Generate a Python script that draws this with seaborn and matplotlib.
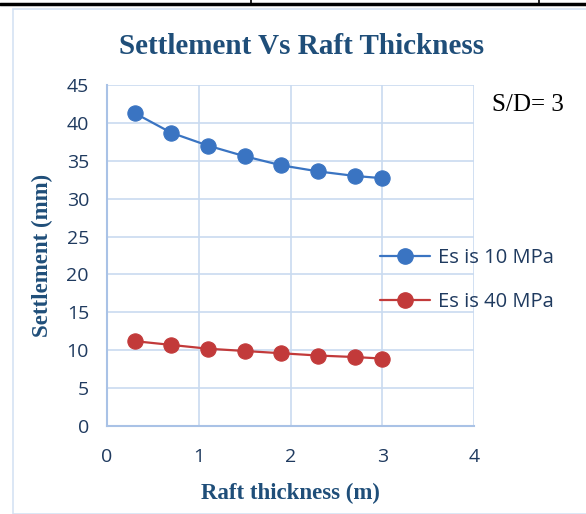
import numpy as np
import pandas as pd
import matplotlib
matplotlib.use("Agg")
import matplotlib.pyplot as plt
import seaborn as sns
from matplotlib.lines import Line2D
from matplotlib.patches import Rectangle

thickness = [0.3, 0.7, 1.1, 1.5, 1.9, 2.3, 2.7, 3.0]
es10 = [41.3, 38.7, 37.0, 35.6, 34.4, 33.6, 33.0, 32.7]
es40 = [11.2, 10.7, 10.2, 9.9, 9.6, 9.3, 9.1, 8.9]
series = ["Es is 10 MPa", "Es is 40 MPa"]
colors = ["#3A74C2", "#C23A3A"]

df = pd.DataFrame({
    "x": thickness * 2,
    "y": es10 + es40,
    "s": [series[0]] * len(thickness) + [series[1]] * len(thickness),
})

sns.set_style("white")
fig = plt.figure(figsize=(5.86, 5.14), dpi=100)
ax = fig.add_axes([107/586, 1-426/514, (474-107)/586, (426-85)/514])

sns.lineplot(data=df, x="x", y="y", hue="s", palette=colors, marker="o",
             markersize=11, markeredgewidth=0.8, linewidth=1.6, ax=ax, legend=False)
for l, c in zip(ax.lines, colors):
    l.set_markeredgecolor(c)

ax.set_xlim(0, 4)
ax.set_ylim(0, 45)
ax.set_xticks([0, 1, 2, 3, 4])
ax.set_yticks(range(0, 46, 5))
grid_c = "#C9DAF0"
ax.grid(True, color=grid_c, linewidth=1.2)
ax.set_axisbelow(True)
for s in ["top", "right"]:
    ax.spines[s].set_visible(False)
for s in ["left", "bottom"]:
    ax.spines[s].set_color("#A9C2E6")
    ax.spines[s].set_linewidth(1.5)
tick_c = "#1F3A5F"
ax.tick_params(axis="both", length=0, labelsize=14, labelcolor=tick_c)
ax.tick_params(axis="y", pad=13)
ax.tick_params(axis="x", pad=16)
for t in ax.get_xticklabels() + ax.get_yticklabels():
    t.set_fontfamily("Open Sans")

ax.set_xlabel("Raft thickness (m)", fontfamily="Liberation Serif", fontweight="bold",
              fontsize=16.5, color="#1F4E79", labelpad=12)
ax.set_ylabel("Settlement (mm)", fontfamily="Liberation Serif", fontweight="bold",
              fontsize=16.5, color="#1F4E79", labelpad=10)

fig.text(302/586, 1-46/514, "Settlement Vs Raft Thickness", ha="center", va="center",
         fontfamily="Liberation Serif", fontweight="bold", fontsize=21, color="#1F4E79")
fig.text(528/586, 1-105/514, "S/D= 3", ha="center", va="center",
         fontfamily="Liberation Serif", fontsize=18, color="black")

handles = [Line2D([0], [0], color=c, marker="o", markersize=11, linewidth=1.6,
                  markeredgecolor=c) for c in colors]
fig.legend(handles, series, loc="center left", bbox_to_anchor=(362/586, 1-280/514),
           frameon=False, labelcolor=tick_c, handlelength=2.5,
           handletextpad=0.35, labelspacing=1.2, prop={"family": "Open Sans", "size": 14.5})

# chart border and table lines
fig.add_artist(Rectangle((13/586, 0), 1, 1-9/514, transform=fig.transFigure,
                         fill=False, edgecolor="#D6E3F3", linewidth=1.2))
fig.add_artist(Line2D([0, 1], [1-4/514, 1-4/514], transform=fig.transFigure,
                      color="black", linewidth=2.5))
for xp in [251, 539]:
    fig.add_artist(Line2D([xp/586, xp/586], [1-4/514, 1], transform=fig.transFigure,
                          color="black", linewidth=1.2))

fig.savefig("out.png", dpi=100)
